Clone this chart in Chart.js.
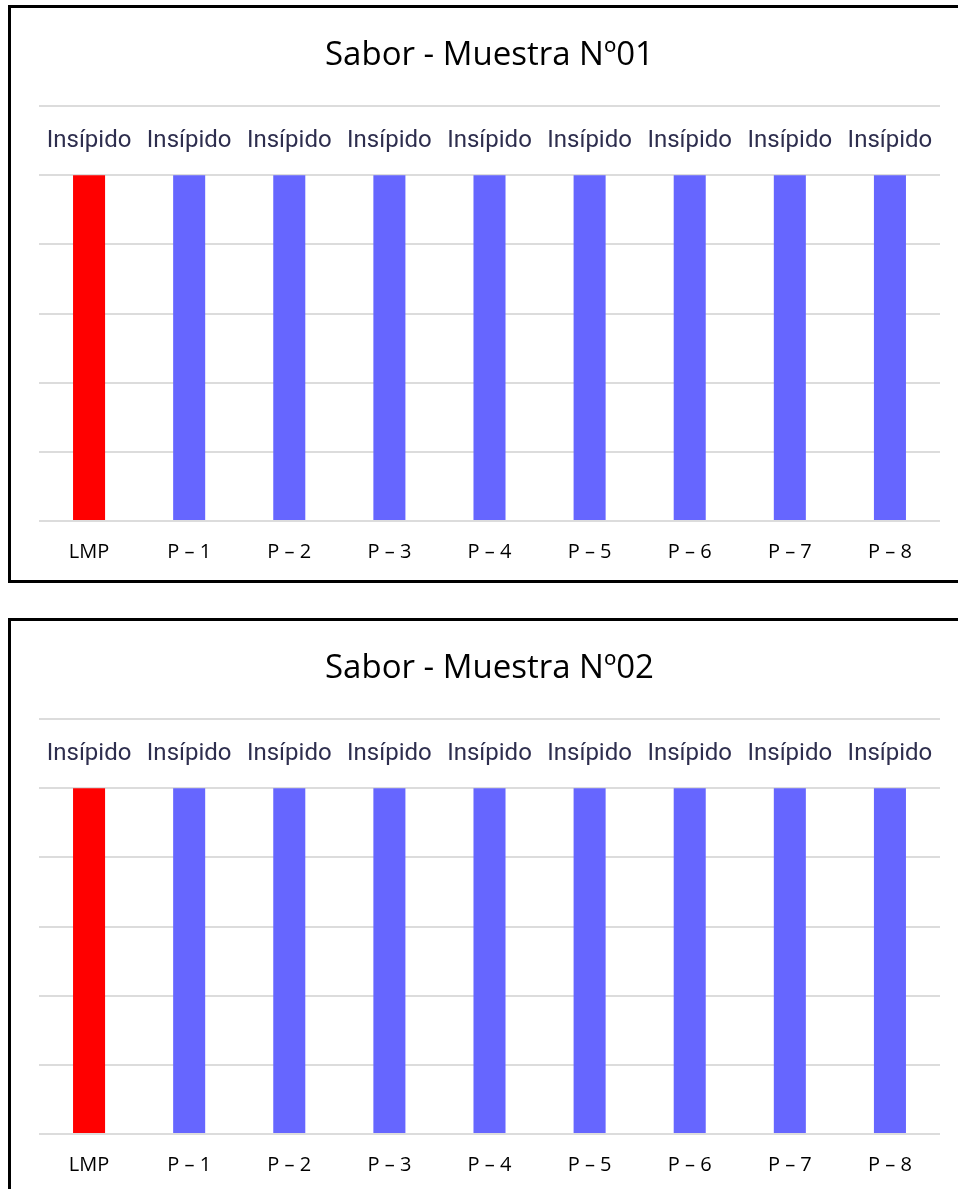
<!DOCTYPE html>
<html>
<head>
<meta charset="utf-8">
<script src="https://cdn.jsdelivr.net/npm/chart.js@4.4.1/dist/chart.umd.min.js"></script>
<style>
  html, body { margin: 0; padding: 0; background: #fff; overflow: hidden; width: 958px; height: 1189px; }
  .box { position: absolute; left: 8px; width: 954px; height: 572px; border: 3px solid #000; background: #fff; }
  .box canvas { display: block; }
</style>
</head>
<body>
<div class="box" style="top:5px"><canvas id="c1" width="954" height="572"></canvas></div>
<div class="box" style="top:618px"><canvas id="c2" width="954" height="572"></canvas></div>
<script>
// Categories along the x axis
const categories = ['LMP', 'P – 1', 'P – 2', 'P – 3', 'P – 4', 'P – 5', 'P – 6', 'P – 7', 'P – 8'];
// Taste value per sample (ordinal scale 0–6)
const valuesMuestra01 = [5, 5, 5, 5, 5, 5, 5, 5, 5];
const valuesMuestra02 = [5, 5, 5, 5, 5, 5, 5, 5, 5];
// Descriptive text shown above each bar
const labelsMuestra01 = ['Insípido', 'Insípido', 'Insípido', 'Insípido', 'Insípido', 'Insípido', 'Insípido', 'Insípido', 'Insípido'];
const labelsMuestra02 = ['Insípido', 'Insípido', 'Insípido', 'Insípido', 'Insípido', 'Insípido', 'Insípido', 'Insípido', 'Insípido'];
const titles = ['Sabor - Muestra Nº01', 'Sabor - Muestra Nº02'];
// Scale range
const yMin = 0, yMax = 6, yStep = 1;

const barColors = categories.map((c, i) => i === 0 ? '#ff0000' : '#6666ff');

// Draws the text label above every bar
const barTextPlugin = {
  id: 'barText',
  afterDatasetsDraw(chart, args, opts) {
    const ctx = chart.ctx;
    const meta = chart.getDatasetMeta(0);
    ctx.save();
    ctx.font = '24px Roboto, "Liberation Sans", sans-serif';
    ctx.fillStyle = '#2e2e4e';
    ctx.textAlign = 'center';
    ctx.textBaseline = 'alphabetic';
    meta.data.forEach((bar, i) => {
      ctx.fillText(opts.texts[i], bar.x, bar.y - 28);
    });
    ctx.restore();
  }
};

function makeChart(id, title, values, texts) {
  return new Chart(document.getElementById(id), {
    type: 'bar',
    data: {
      labels: categories,
      datasets: [{
        data: values,
        backgroundColor: barColors,
        borderWidth: 0,
        barPercentage: 0.64,
        categoryPercentage: 0.5
      }]
    },
    options: {
      responsive: false,
      animation: false,
      layout: { padding: { left: 28, right: 25, top: 0, bottom: 0 } },
      plugins: {
        legend: { display: false },
        tooltip: { enabled: false },
        title: {
          display: true,
          text: title,
          color: '#000',
          font: { family: '"Open Sans", "Noto Sans", sans-serif', size: 33, weight: 'normal' },
          padding: { top: 28, bottom: 30.4 }
        },
        barText: { texts: texts }
      },
      scales: {
        x: {
          grid: { display: false },
          border: { display: false },
          ticks: {
            color: '#000',
            font: { family: '"Open Sans", "Noto Sans", sans-serif', size: 20 },
            padding: 11,
            maxRotation: 0
          },
          afterFit(scale) { scale.height = 59; }
        },
        y: {
          min: yMin, max: yMax,
          ticks: { display: false, stepSize: yStep },
          grid: { color: '#dcdcdc', lineWidth: 2, drawTicks: false },
          border: { display: false },
          afterFit(scale) { scale.width = 0; }
        }
      }
    },
    plugins: [barTextPlugin]
  });
}

makeChart('c1', titles[0], valuesMuestra01, labelsMuestra01);
makeChart('c2', titles[1], valuesMuestra02, labelsMuestra02);
</script>
</body>
</html>
